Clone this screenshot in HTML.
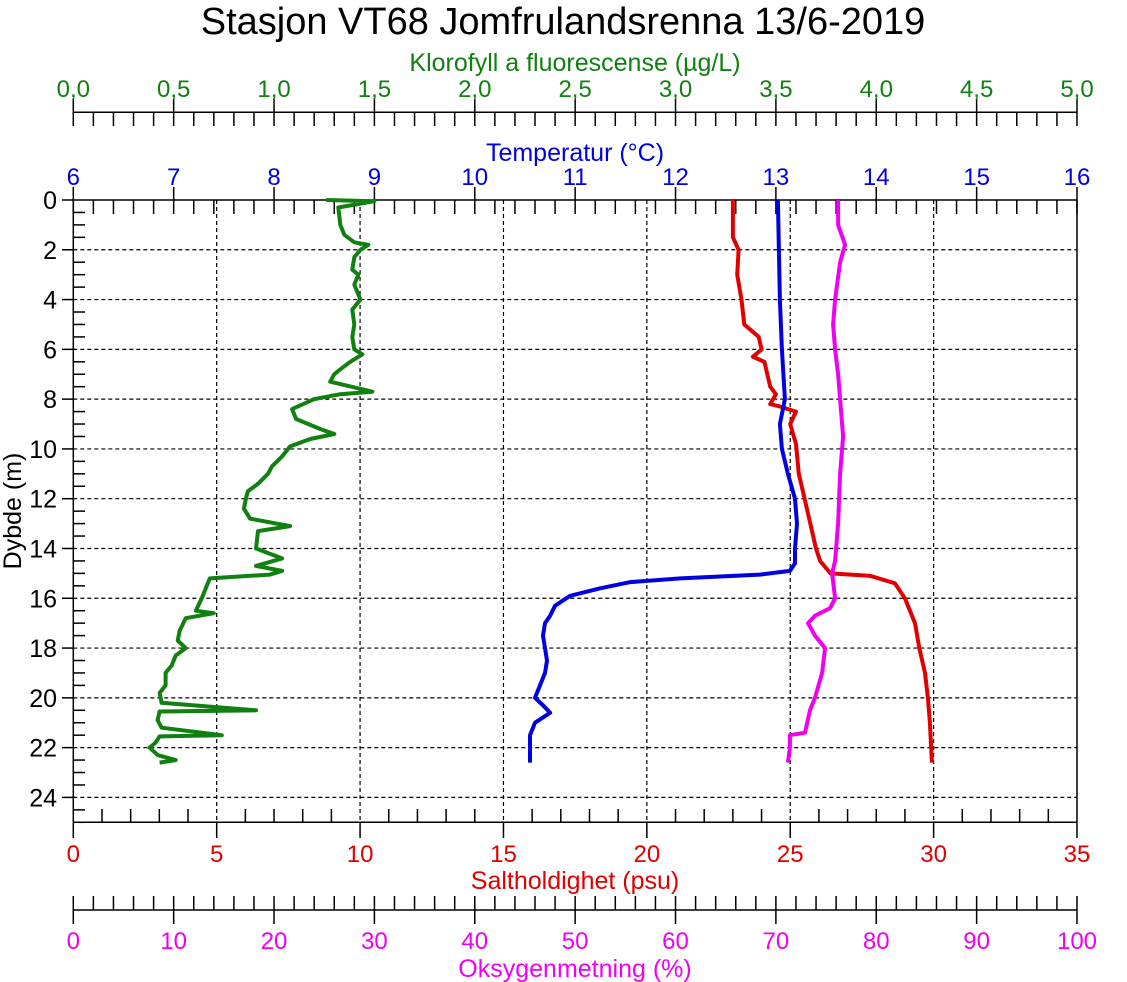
<!DOCTYPE html>
<html><head><meta charset="utf-8"><style>
html,body{margin:0;padding:0;background:#fff;}
svg{display:block;font-family:"Liberation Sans",Arial,sans-serif;}
</style></head><body>
<svg id="c" width="1127" height="982" viewBox="0 0 1127 982">
<text x="563" y="34" text-anchor="middle" font-size="38">Stasjon VT68 Jomfrulandsrenna 13/6-2019</text>
<text x="575" y="71" text-anchor="middle" font-size="25" fill="#108010">Klorofyll a fluorescense (µg/L)</text>
<text x="575" y="161" text-anchor="middle" font-size="25" fill="#0000e0">Temperatur (°C)</text>
<text x="575" y="889" text-anchor="middle" font-size="25" fill="#e00000">Saltholdighet (psu)</text>
<text x="575" y="977" text-anchor="middle" font-size="25" fill="#f000f0">Oksygenmetning (%)</text>
<text transform="translate(21,511) rotate(-90)" text-anchor="middle" font-size="25">Dybde (m)</text>
<g id="grid"></g><g id="axes"></g><g id="series"></g>
</svg>
<script>
const depthTicks=[0,2,4,6,8,10,12,14,16,18,20,22,24];
const chlTicks=["0,0","0,5","1,0","1,5","2,0","2,5","3,0","3,5","4,0","4,5","5,0"];
const tempTicks=[6,7,8,9,10,11,12,13,14,15,16];
const salTicks=[0,5,10,15,20,25,30,35];
const oxyTicks=[0,10,20,30,40,50,60,70,80,90,100];
const chlDepth=[0,0.05,0.3,1,1.4,1.7,1.8,2,2.3,2.8,3,3.4,3.8,4,4.4,5,5.5,6,6.2,6.5,6.8,7,7.3,7.7,7.8,8,8.4,8.8,9.2,9.4,9.6,9.9,10.3,10.7,11,11.4,11.7,12,12.4,12.8,13.1,13.3,14,14.4,14.7,14.9,15.05,15.2,15.6,16,16.5,16.6,16.8,17.3,17.7,18,18.3,18.7,19,19.5,19.8,20.2,20.5,20.55,20.9,21.2,21.5,21.55,21.8,22,22.3,22.5,22.6];
const chlValues=[1.26,1.5,1.32,1.33,1.35,1.40,1.47,1.43,1.40,1.39,1.42,1.40,1.42,1.43,1.39,1.40,1.39,1.40,1.44,1.38,1.33,1.30,1.28,1.49,1.33,1.20,1.09,1.11,1.23,1.30,1.18,1.08,1.04,0.99,0.97,0.92,0.87,0.86,0.85,0.88,1.08,0.92,0.91,1.04,0.91,1.04,0.98,0.68,0.66,0.64,0.61,0.70,0.56,0.53,0.52,0.56,0.51,0.49,0.46,0.46,0.43,0.44,0.91,0.43,0.42,0.44,0.74,0.43,0.41,0.38,0.42,0.51,0.43];
const tempDepth=[0,2,4,6,8,9,10,11,12,13,14,14.6,14.9,15.05,15.2,15.35,15.6,15.9,16.3,16.7,17,17.5,18,18.5,19,19.7,20,20.3,20.6,21,21.5,22,22.6];
const tempValues=[13.02,13.03,13.04,13.06,13.09,13.04,13.06,13.12,13.19,13.21,13.19,13.19,13.14,12.84,12.05,11.55,11.25,10.95,10.80,10.75,10.70,10.68,10.70,10.72,10.70,10.63,10.60,10.68,10.75,10.60,10.55,10.55,10.55];
const salDepth=[0,1.5,2,3,4,5,5.5,6,6.3,6.5,7,7.5,7.8,8.2,8.3,8.5,9,9.8,11,12,13,14,14.5,15,15.1,15.4,16,17,18,19,20,21,22.6];
const salValues=[23.0,23.0,23.2,23.15,23.3,23.4,23.9,24.0,23.7,24.1,24.2,24.3,24.5,24.3,24.65,25.2,25.0,25.2,25.3,25.5,25.7,25.9,26.04,26.4,27.8,28.65,29.0,29.35,29.5,29.7,29.8,29.87,29.94];
const oxyDepth=[0,1,1.8,2.5,4,5,6,7,8,9.5,11,13,14.5,15,16,16.4,16.7,17,17.5,18,19,20,20.5,21.4,21.5,22,22.6];
const oxyValues=[76.2,76.2,76.9,76.4,75.9,75.7,75.9,76.2,76.4,76.7,76.4,76.2,75.9,75.6,75.9,75.4,73.9,73.2,73.9,74.9,74.6,73.9,73.4,72.9,71.4,71.4,71.2];

const NS="http://www.w3.org/2000/svg";
const L=73.3,R=1077,T=200,B=822.3;
const yD=d=>T+(B-T)*d/25;
const xChl=v=>L+(R-L)*v/5;
const xTemp=v=>L+(R-L)*(v-6)/10;
const xSal=v=>L+(R-L)*v/35;
const xOxy=v=>L+(R-L)*v/100;
function el(tag,attrs,parent){const e=document.createElementNS(NS,tag);for(const k in attrs)e.setAttribute(k,attrs[k]);parent.appendChild(e);return e;}
const grid=document.getElementById('grid'),axes=document.getElementById('axes'),series=document.getElementById('series');

for(const d of depthTicks){if(d===0)continue;const g=el('line',{x1:L,x2:R,y1:yD(d),y2:yD(d),stroke:'#000','stroke-width':1.2,'stroke-dasharray':'4,3'},grid);

}
for(const s of salTicks){if(s===0||s===35)continue;const g=el('line',{x1:xSal(s),x2:xSal(s),y1:T,y2:B,stroke:'#000','stroke-width':1.2,'stroke-dasharray':'4,3'},grid);

}

function line(x1,y1,x2,y2){return el('line',{x1,y1,x2,y2,stroke:'#000','stroke-width':1.5},axes);}
function txt(x,y,s,fill,anchor){const t=el('text',{x,y,'font-size':24,fill,'text-anchor':anchor||'middle'},axes);t.textContent=s;return t;}

line(L,T,L,B);line(R,T,R,B);line(L,B,R,B);line(L,T,R,T);

const cy=112.3;line(L,cy,R,cy);
for(let i=0;i<=50;i++){const x=xChl(i/10);if(i%5===0)line(x,98,x,126);else line(x,cy,x,126);}
chlTicks.forEach((s,i)=>{const t=txt(xChl(i*0.5),97,s,'#108010');

});

for(let i=0;i<=50;i++){const x=xTemp(6+i*0.2);if(i%5===0)line(x,187,x,214);else line(x,T,x,214);}
tempTicks.forEach(v=>{const t=txt(xTemp(v),185,String(v),'#0000e0');

});

for(let i=0;i<=50;i++){const y=yD(i*0.5);if(i%4===0)line(62,y,L,y);else line(L,y,85,y);}
depthTicks.forEach(d=>{const t=txt(57,yD(d)+9,String(d),'#000','end');t.setAttribute('font-size',25);

});

for(let i=0;i<=35;i++){const x=xSal(i);if(i%5===0)line(x,B,x,838);else line(x,809,x,B);}
salTicks.forEach(v=>{const t=txt(xSal(v),862,String(v),'#e00000');

});

const oy=910;line(L,oy,R,oy);
for(let i=0;i<=50;i++){const x=xOxy(i*2);if(i%5===0)line(x,896,x,924);else line(x,896,x,oy);}
oxyTicks.forEach(v=>{const t=txt(xOxy(v),949,String(v),'#f000f0');

});

function path(depths,vals,xf,color){let d='';depths.forEach((dp,i)=>{d+=(i?'L':'M')+xf(vals[i]).toFixed(1)+','+yD(dp).toFixed(1);});
return el('path',{d,fill:'none',stroke:color,'stroke-width':4,'stroke-linejoin':'round'},series);}
const p1=path(chlDepth,chlValues,xChl,'#108010');


const p2=path(salDepth,salValues,xSal,'#e00000');


const p3=path(oxyDepth,oxyValues,xOxy,'#f000f0');


const p4=path(tempDepth,tempValues,xTemp,'#0000e0');


</script>
</body></html>
